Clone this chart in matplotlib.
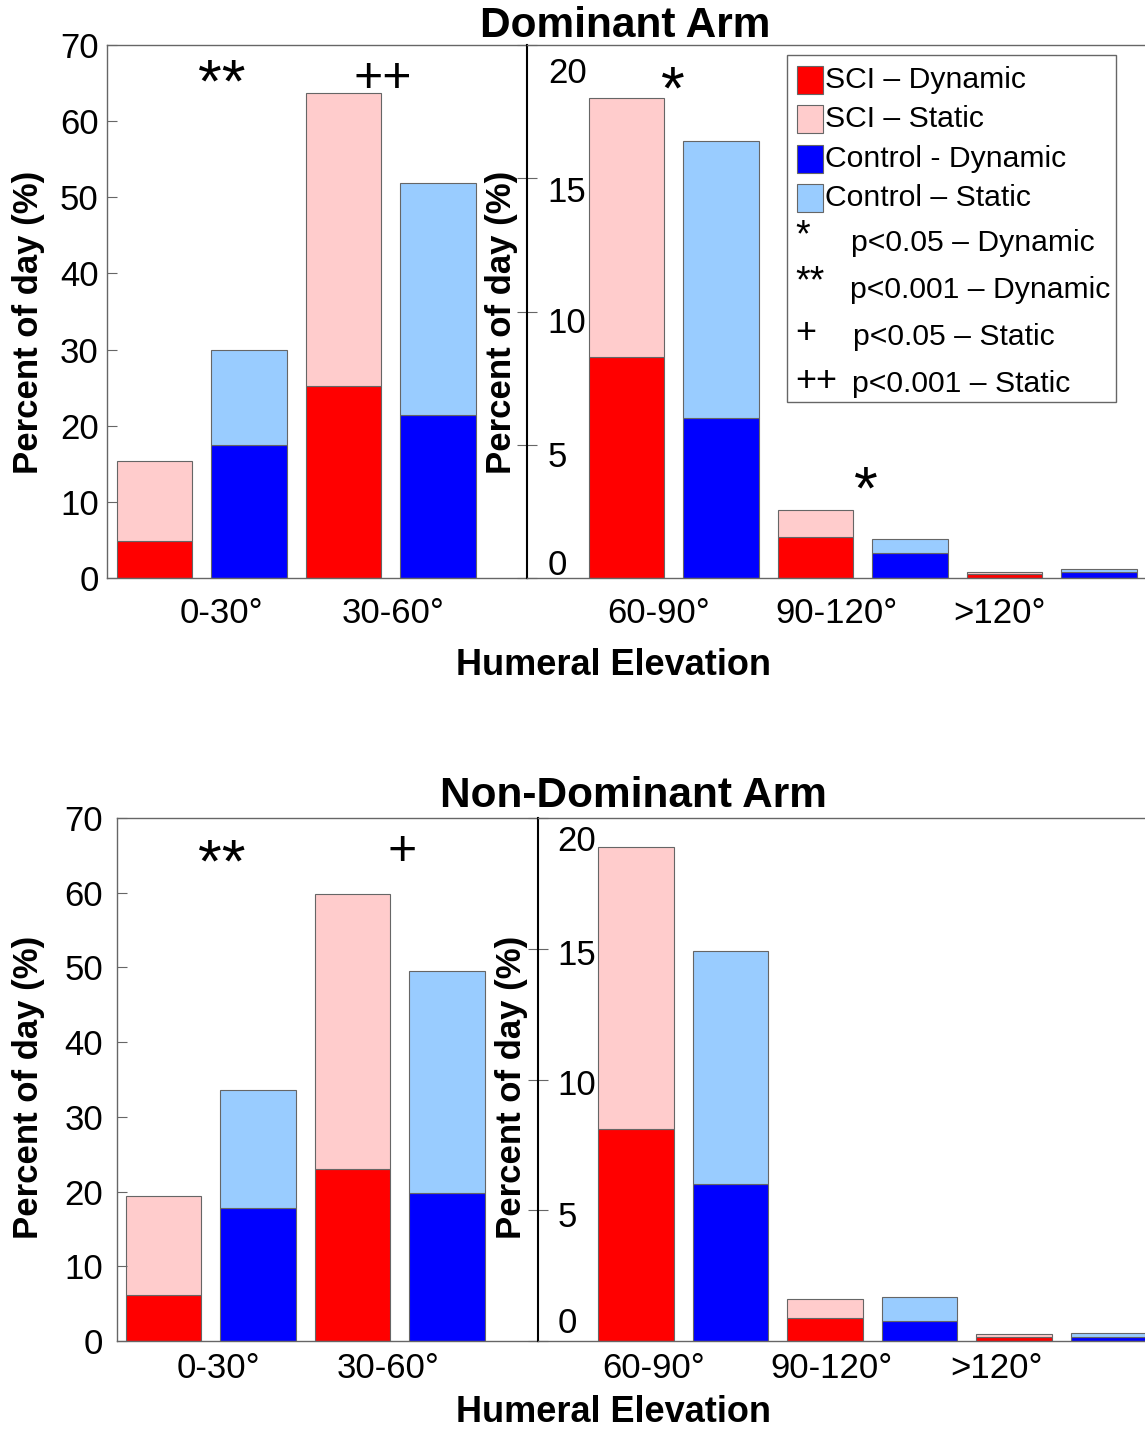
import matplotlib
matplotlib.use("Agg")
import matplotlib.pyplot as plt
from matplotlib.patches import Rectangle
import numpy as np

plt.rcParams['font.family'] = ['Liberation Sans', 'DejaVu Sans']

# ---------------- data ----------------
groups_left = ["0-30°", "30-60°"]
groups_right = ["60-90°", "90-120°", ">120°"]

# Dominant arm (percent of day)
dom_sci_dyn_left = [4.9, 25.2]
dom_sci_tot_left = [15.4, 63.7]
dom_con_dyn_left = [17.5, 21.4]
dom_con_tot_left = [30.0, 51.9]
dom_sci_dyn_right = [8.3, 1.55, 0.14]
dom_sci_tot_right = [18.0, 2.55, 0.22]
dom_con_dyn_right = [6.0, 0.95, 0.22]
dom_con_tot_right = [16.4, 1.45, 0.34]

# Non-dominant arm
nd_sci_dyn_left = [6.2, 23.0]
nd_sci_tot_left = [19.4, 59.8]
nd_con_dyn_left = [17.8, 19.8]
nd_con_tot_left = [33.6, 49.5]
nd_sci_dyn_right = [8.1, 0.88, 0.17]
nd_sci_tot_right = [18.9, 1.62, 0.27]
nd_con_dyn_right = [6.0, 0.78, 0.17]
nd_con_tot_right = [14.9, 1.69, 0.30]

left_yticks = [0, 10, 20, 30, 40, 50, 60, 70]
right_yticks = [0, 5, 10, 15, 20]

legend_labels = ["SCI – Dynamic", "SCI – Static", "Control - Dynamic", "Control – Static"]
sig_symbols = ["*", "**", "+", "++"]
sig_labels = ["p<0.05 – Dynamic", "p<0.001 – Dynamic", "p<0.05 – Static", "p<0.001 – Static"]

C_SCI_DYN = "#FF0000"
C_SCI_STA = "#FFCCCC"
C_CON_DYN = "#0000FF"
C_CON_STA = "#99CCFF"
EDGE = "#666666"

W, H = 1145, 1431
fig = plt.figure(figsize=(W / 100, H / 100), dpi=100)


def fx(px):
    return px / W


def fy(py):
    return 1 - py / H


def axes_px(x0, x1, y0, y1):
    return fig.add_axes([fx(x0), fy(y1), fx(x1) - fx(x0), fy(y0) - fy(y1)])


def draw_stacked(ax, sci_dyn, sci_tot, con_dyn, con_tot):
    n = len(sci_dyn)
    xs_sci = 1 + 2 * np.arange(n)
    xs_con = xs_sci + 1
    sci_dyn = np.array(sci_dyn)
    con_dyn = np.array(con_dyn)
    ax.bar(xs_sci, sci_dyn, 0.8, color=C_SCI_DYN, edgecolor=EDGE, linewidth=0.8)
    ax.bar(xs_sci, np.array(sci_tot) - sci_dyn, 0.8, bottom=sci_dyn, color=C_SCI_STA,
           edgecolor=EDGE, linewidth=0.8)
    ax.bar(xs_con, con_dyn, 0.8, color=C_CON_DYN, edgecolor=EDGE, linewidth=0.8)
    ax.bar(xs_con, np.array(con_tot) - con_dyn, 0.8, bottom=con_dyn, color=C_CON_STA,
           edgecolor=EDGE, linewidth=0.8)


def style_left(ax, xlim, xlabels, xlabel_pos, pad_x, pad_y):
    ax.set_xlim(*xlim)
    ax.set_ylim(0, 70)
    ax.set_yticks(left_yticks)
    ax.set_yticklabels([str(v) for v in left_yticks], fontsize=25)
    ax.tick_params(axis='y', direction='in', length=7, color=EDGE, pad=pad_y)
    ax.set_xticks(xlabel_pos)
    ax.set_xticklabels(xlabels, fontsize=25)
    ax.tick_params(axis='x', length=0, pad=pad_x)
    for s in ['top', 'left', 'bottom']:
        ax.spines[s].set_color(EDGE)
        ax.spines[s].set_linewidth(1.0)
    ax.spines['right'].set_visible(False)
    ax.set_ylabel("Percent of day (%)", fontsize=25, fontweight='bold')


def style_right(ax, xlim, xlabels, xlabel_pos, label_y, pad_x, pad_lab):
    ax.set_xlim(*xlim)
    ax.set_ylim(0, 20)
    ax.set_yticks(right_yticks)
    ax.set_yticklabels([])
    ax.tick_params(axis='y', which='major', direction='inout', length=14, color=EDGE)
    ax.set_yticks(label_y, minor=True)
    ax.set_yticklabels([str(v) for v in right_yticks], minor=True, fontsize=25)
    ax.tick_params(axis='y', which='minor', length=0, pad=pad_lab)
    for lab in ax.get_yticklabels(minor=True):
        lab.set_horizontalalignment('left')
    ax.set_xticks(xlabel_pos)
    ax.set_xticklabels(xlabels, fontsize=25)
    ax.tick_params(axis='x', length=0, pad=pad_x)
    for s in ['top', 'bottom']:
        ax.spines[s].set_color(EDGE)
        ax.spines[s].set_linewidth(1.0)
    ax.spines['left'].set_color('black')
    ax.spines['left'].set_linewidth(1.5)
    ax.spines['right'].set_visible(False)
    ax.set_ylabel("Percent of day (%)", fontsize=25, fontweight='bold')
    ax.patch.set_alpha(0)


# ---------------- Dominant arm ----------------
axL1 = axes_px(107, 527, 45, 578)
axR1 = axes_px(527, 1145, 45, 578)
draw_stacked(axL1, dom_sci_dyn_left, dom_sci_tot_left, dom_con_dyn_left, dom_con_tot_left)
draw_stacked(axR1, dom_sci_dyn_right, dom_sci_tot_right, dom_con_dyn_right, dom_con_tot_right)
style_left(axL1, (0.497, 4.942), groups_left, [1.71, 3.52], pad_x=14, pad_y=6)
style_right(axR1, (-0.053, 6.487), groups_right, [1.34, 3.22, 4.95],
            [0.6, 4.65, 9.68, 14.6, 19.06], pad_x=14, pad_lab=-15)
axL1.yaxis.set_label_coords(-0.148, 0.48)
axR1.yaxis.set_label_coords(-0.0146, 0.48)

axL1.text(1.71, 64.6, "**", fontsize=44, ha='center', va='center')
axL1.text(3.42, 65.6, "++", fontsize=36, ha='center', va='center')
axR1.text(1.49, 18.2, "*", fontsize=44, ha='center', va='center')
axR1.text(3.53, 3.2, "*", fontsize=44, ha='center', va='center')

fig.text(fx(625), fy(26), "Dominant Arm", fontsize=30.5, fontweight='bold', ha='center', va='center')
fig.text(fx(614), fy(665), "Humeral Elevation", fontsize=26, fontweight='bold', ha='center', va='center')

# legend (manual)
fig.add_artist(Rectangle((fx(787), fy(402)), fx(1116) - fx(787), fy(55) - fy(402),
                         transform=fig.transFigure, facecolor='white', edgecolor=EDGE,
                         linewidth=1.0))
leg_colors = [C_SCI_DYN, C_SCI_STA, C_CON_DYN, C_CON_STA]
row_y = [80, 119, 159, 198]
for c, lab, yy in zip(leg_colors, legend_labels, row_y):
    fig.add_artist(Rectangle((fx(797), fy(yy + 14)), fx(823) - fx(797), fy(yy - 14) - fy(yy + 14),
                             transform=fig.transFigure, facecolor=c, edgecolor=EDGE,
                             linewidth=0.8))
    fig.text(fx(825), fy(yy), lab, fontsize=21.7, ha='left', va='center')
sig_y = [243, 290, 337, 384]
sym_y = [236, 282, 334, 382]
sig_x = [851, 850, 853, 852]
for sym, lab, yy, sy, sx in zip(sig_symbols, sig_labels, sig_y, sym_y, sig_x):
    fig.text(fx(795), fy(sy), sym, fontsize=27 if '*' in sym else 26, ha='left', va='center')
    fig.text(fx(sx), fy(yy), lab, fontsize=21.7, ha='left', va='center')

# ---------------- Non-dominant arm ----------------
axL2 = axes_px(117, 538, 818, 1341)
axR2 = axes_px(538, 1145, 818, 1341)
draw_stacked(axL2, nd_sci_dyn_left, nd_sci_tot_left, nd_con_dyn_left, nd_con_tot_left)
draw_stacked(axR2, nd_sci_dyn_right, nd_sci_tot_right, nd_con_dyn_right, nd_con_tot_right)
style_left(axL2, (0.508, 4.963), groups_left, [1.58, 3.38], pad_x=8, pad_y=10)
style_right(axR2, (-0.037, 6.386), groups_right, [1.19, 3.07, 4.81],
            [0.8, 4.86, 9.9, 14.88, 19.23], pad_x=8, pad_lab=-14)
axL2.yaxis.set_label_coords(-0.171, 0.484)
axR2.yaxis.set_label_coords(-0.0165, 0.484)

axL2.text(1.62, 63.6, "**", fontsize=44, ha='center', va='center')
axL2.text(3.53, 65.4, "+", fontsize=36, ha='center', va='center')

fig.text(fx(633), fy(796), "Non-Dominant Arm", fontsize=30.5, fontweight='bold', ha='center', va='center')
fig.text(fx(614), fy(1413), "Humeral Elevation", fontsize=26, fontweight='bold', ha='center', va='center')

fig.savefig("out.png", dpi=100)
